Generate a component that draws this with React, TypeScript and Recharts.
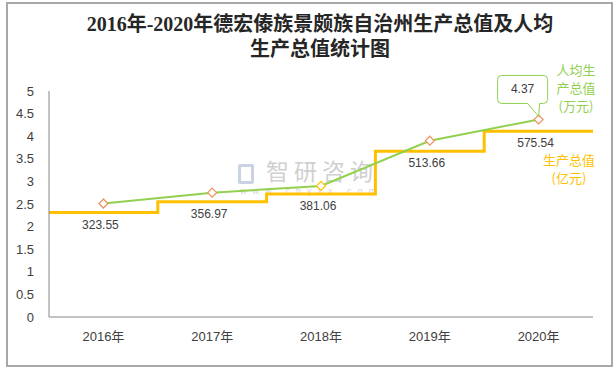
import React from 'react';
import {
  ComposedChart,
  Line,
  XAxis,
  YAxis,
  LabelList,
} from 'recharts';

const years = ['2016年', '2017年', '2018年', '2019年', '2020年'];
const gdp = [323.55, 356.97, 381.06, 513.66, 575.54]; // 亿元
const perCapita = [2.51, 2.75, 2.9, 3.9, 4.37]; // 万元
const yTicks = [0, 0.5, 1, 1.5, 2, 2.5, 3, 3.5, 4, 4.5, 5];
const dotColors = ['#f0905c', '#f0905c', '#ffc000', '#f0905c', '#f0905c'];

const GREEN = '#92d050';
const GOLD = '#ffc000';
const TEXT = '#404040';

const chartData = years.map((year, i) => ({ year, gdp: gdp[i], pc: perCapita[i] }));
// step series on a hidden numeric axis so each step fills its whole category band
const stepData = [...gdp, gdp[gdp.length - 1]].map((v, i) => ({ x: i, gdp: v }));

const Diamond = (props: any) => {
  const { cx, cy, index } = props;
  if (cx == null || cy == null) return null;
  const r = 4.5;
  return (
    <path
      key={`d-${index}`}
      d={`M${cx},${cy - r} L${cx + r},${cy} L${cx},${cy + r} L${cx - r},${cy} Z`}
      fill="#fff"
      stroke={dotColors[index]}
      strokeWidth={1.2}
    />
  );
};

const Callout = (props: any) => {
  const { x, y, index, value } = props;
  if (index !== perCapita.length - 1) return null;
  const l = x - 41, r = x + 9, t = y - 44, b = y - 16, rad = 4;
  const d = `M${l + rad},${t} L${r - rad},${t} Q${r},${t} ${r},${t + rad} L${r},${b - rad} Q${r},${b} ${r - rad},${b}
    L${x + 1},${b} L${x},${y - 3} L${x - 11},${b} L${l + rad},${b} Q${l},${b} ${l},${b - rad} L${l},${t + rad} Q${l},${t} ${l + rad},${t} Z`;
  return (
    <g>
      <path d={d} fill="#fff" stroke={GREEN} strokeWidth={1} />
      <text x={(l + r) / 2} y={(t + b) / 2 + 4} textAnchor="middle" fontSize={12} fill={TEXT}
        fontFamily="Liberation Sans, Arial, sans-serif">
        {value}
      </text>
    </g>
  );
};

const GdpLabel = (props: any) => {
  const { x, y, value } = props;
  return (
    <text x={x - 3} y={y + 16} textAnchor="middle" fontSize={12} fill={TEXT}
      fontFamily="Liberation Sans, Arial, sans-serif">
      {value}
    </text>
  );
};

export default function App() {
  return (
    <div style={{ position: 'absolute', left: 0, top: 0, width: 616, height: 369, background: '#fff' }}>
      <div style={{
        position: 'absolute', left: 6, top: 2, width: 603, height: 361,
        border: '2px solid #a8a8a8',
      }} />
      <div style={{
        position: 'absolute', left: 0, top: 12, width: 640, textAlign: 'center',
        fontFamily: '"Liberation Serif", "Noto Sans CJK SC", serif', fontWeight: 'bold',
        fontSize: 20, lineHeight: '25px', color: '#262626',
      }}>
        <div>2016年-2020年德宏傣族景颇族自治州生产总值及人均</div>
        <div>生产总值统计图</div>
      </div>

      {/* watermark */}
      <div style={{
        position: 'absolute', left: 238, top: 164, width: 16, height: 20,
        border: '3px solid #c9d3e3', borderRadius: 2, boxSizing: 'border-box',
      }} />
      <div style={{
        position: 'absolute', left: 266, top: 158, fontFamily: '"Noto Sans CJK SC", sans-serif',
        fontSize: 23, lineHeight: '25px', color: '#d0d0d0', letterSpacing: 5,
      }}>智研咨询</div>
      <div style={{
        position: 'absolute', left: 240, top: 186, fontFamily: 'Liberation Sans, sans-serif',
        fontSize: 9, lineHeight: '10px', color: '#d4d4d4', letterSpacing: 6,
      }}>www.chyxx.com</div>

      <ComposedChart
        width={616}
        height={369}
        data={chartData}
        margin={{ top: 91, right: 23, bottom: 22, left: 9 }}
        style={{ position: 'absolute', left: 0, top: 0 }}
      >
        <XAxis
          dataKey="year"
          xAxisId="cat"
          scale="band"
          axisLine={{ stroke: '#868686' }}
          tickLine={false}
          tickMargin={9}
          height={30}
          tick={{ fontSize: 13, fill: TEXT, fontFamily: 'Liberation Sans, "Noto Sans CJK SC", sans-serif' }}
        />
        <XAxis xAxisId="num" type="number" dataKey="x" domain={[0, 5]} hide />
        <YAxis
          yAxisId="pc"
          domain={[0, 5]}
          ticks={yTicks}
          interval={0}
          width={40}
          axisLine={{ stroke: '#868686' }}
          tickLine={false}
          tickMargin={9}
          tick={{ fontSize: 13, fill: TEXT, fontFamily: 'Liberation Sans, Arial, sans-serif' }}
        />
        <YAxis yAxisId="gdp" orientation="right" domain={[0, 700]} hide />

        <Line
          data={stepData}
          xAxisId="num"
          yAxisId="gdp"
          dataKey="gdp"
          type="stepAfter"
          stroke={GOLD}
          strokeWidth={3}
          dot={false}
          isAnimationActive={false}
        />
        <Line
          xAxisId="cat"
          yAxisId="gdp"
          dataKey="gdp"
          stroke="none"
          dot={false}
          activeDot={false}
          isAnimationActive={false}
        >
          <LabelList dataKey="gdp" content={GdpLabel} />
        </Line>
        <Line
          xAxisId="cat"
          yAxisId="pc"
          dataKey="pc"
          type="linear"
          stroke={GREEN}
          strokeWidth={2}
          dot={Diamond}
          activeDot={false}
          isAnimationActive={false}
        >
          <LabelList dataKey="pc" content={Callout} />
        </Line>
      </ComposedChart>

      <div style={{
        position: 'absolute', left: 552, top: 61, width: 48, textAlign: 'center',
        fontFamily: '"Noto Sans CJK SC", sans-serif', fontSize: 13, lineHeight: '18px', color: GREEN,
      }}>
        人均生<br />产总值<br />(万元)
      </div>
      <div style={{
        position: 'absolute', left: 538, top: 151, width: 62, textAlign: 'center',
        fontFamily: '"Noto Sans CJK SC", sans-serif', fontSize: 13, lineHeight: '18px', color: GOLD,
      }}>
        生产总值<br />(亿元)
      </div>
    </div>
  );
}
